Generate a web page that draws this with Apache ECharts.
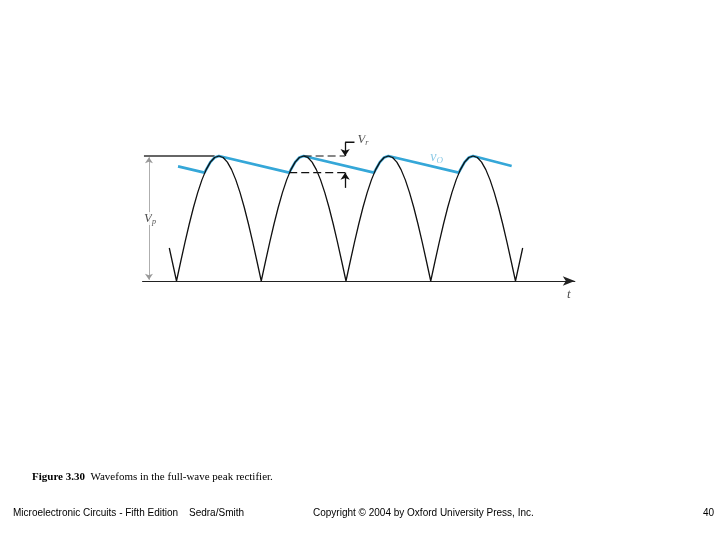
<!DOCTYPE html>
<html>
<head>
<meta charset="utf-8">
<script src="https://cdn.jsdelivr.net/npm/echarts@6/dist/echarts.min.js"></script>
<style>
html,body{margin:0;padding:0;background:#fff;}
#chart{width:720px;height:540px;}
</style>
</head>
<body>
<div id="chart"></div>
<script>
// Full-wave rectified input (black), t in half-periods, v in units of Vp
var waveData = [
  [-0.085,0.264],
  [0,0],[0.05,0.156],[0.1,0.309],[0.15,0.454],[0.2,0.588],[0.25,0.707],[0.3,0.809],[0.35,0.891],[0.4,0.951],[0.45,0.988],
  [0.5,1],[0.55,0.988],[0.6,0.951],[0.65,0.891],[0.7,0.809],[0.75,0.707],[0.8,0.588],[0.85,0.454],[0.9,0.309],[0.95,0.156],
  [1,0],[1.05,0.156],[1.1,0.309],[1.15,0.454],[1.2,0.588],[1.25,0.707],[1.3,0.809],[1.35,0.891],[1.4,0.951],[1.45,0.988],
  [1.5,1],[1.55,0.988],[1.6,0.951],[1.65,0.891],[1.7,0.809],[1.75,0.707],[1.8,0.588],[1.85,0.454],[1.9,0.309],[1.95,0.156],
  [2,0],[2.05,0.156],[2.1,0.309],[2.15,0.454],[2.2,0.588],[2.25,0.707],[2.3,0.809],[2.35,0.891],[2.4,0.951],[2.45,0.988],
  [2.5,1],[2.55,0.988],[2.6,0.951],[2.65,0.891],[2.7,0.809],[2.75,0.707],[2.8,0.588],[2.85,0.454],[2.9,0.309],[2.95,0.156],
  [3,0],[3.05,0.156],[3.1,0.309],[3.15,0.454],[3.2,0.588],[3.25,0.707],[3.3,0.809],[3.35,0.891],[3.4,0.951],[3.45,0.988],
  [3.5,1],[3.55,0.988],[3.6,0.951],[3.65,0.891],[3.7,0.809],[3.75,0.707],[3.8,0.588],[3.85,0.454],[3.9,0.309],[3.95,0.156],
  [4,0],[4.085,0.264]
];
// Output voltage vO (blue)
var voData = [
  [0.018,0.917],[0.33,0.867],[0.35,0.891],[0.4,0.951],[0.45,0.988],[0.5,1],
  [1.33,0.867],[1.35,0.891],[1.4,0.951],[1.45,0.988],[1.5,1],
  [2.33,0.867],[2.35,0.891],[2.4,0.951],[2.45,0.988],[2.5,1],
  [3.33,0.867],[3.35,0.891],[3.4,0.951],[3.45,0.988],[3.5,1],
  [3.955,0.92]
];
// Peak reference line (Vp level)
var peakRef = [[-0.384,1],[0.45,1]];
// Ripple dashed guides
var rippleTop = [[1.5,1],[1.99,1]];
var rippleBottom = [[1.33,0.867],[1.99,0.867]];
// Dimension markers
var vpDim = [[-0.325,0.01],[-0.325,0.99]];
var vrTopBar = [[1.99,1.11],[2.1,1.11]];
var vrTopArrow = [[1.99,1.11],[1.99,1.0]];
var vrBottomArrow = [[1.99,0.745],[1.99,0.867]];
// Text labels: [t, v, key]
var labelData = [
  [-0.313,0.5,'Vp'],
  [2.2,1.13,'Vr'],
  [3.07,0.99,'vO'],
  [4.63,-0.11,'t']
];

var chart = echarts.init(document.getElementById('chart'), null, {renderer:'canvas'});

function seg(d, color, width, type, z) {
  return {
    type:'line', data:d, showSymbol:false, symbol:'none', silent:true,
    lineStyle:{color:color, width:width, type:type||'solid'},
    z: z || 3
  };
}
function arrowMark(d, color, width, symbols, size) {
  return {
    type:'line', data:[], silent:true, showSymbol:false,
    markLine:{
      silent:true, animation:false,
      symbol:symbols, symbolSize:size,
      label:{show:false},
      lineStyle:{color:color, width:width, type:'solid'},
      emphasis:{disabled:true},
      data:[[{coord:d[0]},{coord:d[1]}]]
    }
  };
}

var labelRich = {
  Vp:'{V|V}{s|p}', Vr:'{V|V}{s|r}', vO:'{bv|v}{bs|O}', t:'{V|t}'
};

var option = {
  animation:false,
  backgroundColor:'#ffffff',
  grid:{left:142.6, top:131, width:432.2, height:150, containLabel:false},
  xAxis:{
    type:'value', min:-0.4, max:4.7,
    axisLine:{show:true, onZero:false, symbol:['none','arrow'], symbolSize:[7,12], lineStyle:{color:'#222', width:1.2}},
    axisTick:{show:false}, axisLabel:{show:false}, splitLine:{show:false}
  },
  yAxis:{
    type:'value', min:0, max:1.2,
    axisLine:{show:false}, axisTick:{show:false}, axisLabel:{show:false}, splitLine:{show:false}
  },
  series:[
    seg(peakRef,'#333',1.5,null,3),
    seg(voData,'#35a7d8',2.6,null,3),
    seg(waveData,'#111',1.3,null,4),
    seg(rippleTop,'#111',1.2,[8,4],3),
    seg(rippleBottom,'#111',1.2,[8,4],3),
    seg(vrTopBar,'#111',1.5,null,3),
    arrowMark(vpDim,'#999',0.8,['arrow','arrow'],6),
    arrowMark(vrTopArrow,'#111',1.3,['none','arrow'],7),
    arrowMark(vrBottomArrow,'#111',1.3,['none','arrow'],7),
    {
      type:'scatter', silent:true, symbolSize:0, z:10, clip:false,
      data:labelData.map(function(d){return [d[0],d[1],d[2]];}),
      label:{
        show:true, position:'inside',
        formatter:function(p){return labelRich[p.data[2]];},
        rich:{
          V:{fontFamily:'Liberation Serif', fontStyle:'italic', fontSize:13, color:'#222', backgroundColor:'#fff'},
          s:{fontFamily:'Liberation Serif', fontStyle:'italic', fontSize:8, color:'#222', verticalAlign:'bottom', padding:[6,0,0,0], backgroundColor:'#fff'},
          bv:{fontFamily:'Liberation Serif', fontStyle:'italic', fontSize:14, color:'#6bbce0'},
          bs:{fontFamily:'Liberation Serif', fontStyle:'italic', fontSize:9, color:'#6bbce0', verticalAlign:'bottom', padding:[6,0,0,0]}
        }
      }
    }
  ],
  graphic:[
    {type:'text', left:32, top:472, style:{
      text:'{b|Figure 3.30}  Wavefoms in the full-wave peak rectifier.',
      fontFamily:'Liberation Serif', fontSize:11, fill:'#000',
      rich:{b:{fontFamily:'Liberation Serif', fontSize:11, fontWeight:'bold', fill:'#000'}}
    }},
    {type:'text', left:13, top:508, style:{text:'Microelectronic Circuits - Fifth Edition', fontFamily:'Liberation Sans', fontSize:10, fill:'#000'}},
    {type:'text', left:189, top:508, style:{text:'Sedra/Smith', fontFamily:'Liberation Sans', fontSize:10, fill:'#000'}},
    {type:'text', left:313, top:508, style:{text:'Copyright \u00a9 2004 by Oxford University Press, Inc.', fontFamily:'Liberation Sans', fontSize:10, fill:'#000'}},
    {type:'text', left:703, top:508, style:{text:'40', fontFamily:'Liberation Sans', fontSize:10, fill:'#000'}}
  ]
};
chart.setOption(option);
</script>
</body>
</html>
